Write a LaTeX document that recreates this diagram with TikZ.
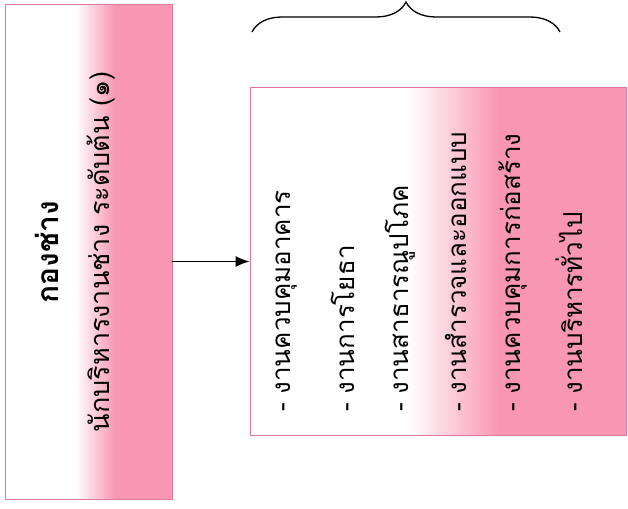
\documentclass[tikz,border=0pt]{standalone}
\usepackage{fontspec}
\newfontfamily\thaifont[Script=Thai]{Loma}
\usepackage{tikz}
\usetikzlibrary{calc}
\usetikzlibrary{arrows.meta}
\usetikzlibrary{decorations.pathreplacing}
\definecolor{pinkbox}{RGB}{249,150,180}
\definecolor{pinkedge}{RGB}{225,120,150}
\pgfdeclarehorizontalshading{pinkfade}{100bp}{color(0bp)=(white); color(46bp)=(white); color(58bp)=(pinkbox); color(100bp)=(pinkbox)}
\tikzset{
	unitbox/.style={draw=pinkedge,line width=0.8pt,shading=pinkfade,inner sep=0pt},
	vtext/.style={rotate=90,inner sep=0pt,font=\thaifont\fontsize{27}{31}\selectfont},
	jobline/.style={vtext,anchor=west,font=\thaifont\fontsize{26}{30}\selectfont},
}

\begin{document}
\begin{tikzpicture}[x=1pt,y=-1pt]
			\useasboundingbox (0,0) rectangle (628,508);
			
			% left box: division and head position
			\node[unitbox,minimum width=167pt,minimum height=495pt] (leftbox) at (88.5,252) {};
			\node[vtext,font=\thaifont\bfseries\fontsize{30}{34}\selectfont] (division) at (47,252) {กองช่าง};
			\node[vtext] (head) at (101,252) {นักบริหารงานช่าง ระดับต้น (๑)};
			
			% right box: list of tasks
			\node[unitbox,minimum width=376pt,minimum height=348pt] (rightbox) at (438,261.5) {};
			\node[jobline] (job1) at (287,412) {- งานควบคุมอาคาร};
			\node[jobline] (job2) at (343,412) {- งานการโยธา};
			\node[jobline] (job3) at (400,412) {- งานสาธารณูปโภค};
			\node[jobline] (job4) at (456,412) {- งานสำรวจและออกแบบ};
			\node[jobline] (job5) at (513,412) {- งานควบคุมการก่อสร้าง};
			\node[jobline] (job6) at (569,412) {- งานบริหารทั่วไป};
			
			% arrow between the boxes
			\draw[-{Latex[length=14pt,width=11pt]},line width=1.5pt] (leftbox.east |- rightbox.west) -- (rightbox.west);
			
			% brace over the list
			\coordinate (braceL) at (252,32);
			\coordinate (braceR) at (560,32);
			\draw[decorate,decoration={brace,amplitude=30pt},line width=1.3pt] (braceL) -- (braceR);
			
			\end{tikzpicture}
\end{document}
